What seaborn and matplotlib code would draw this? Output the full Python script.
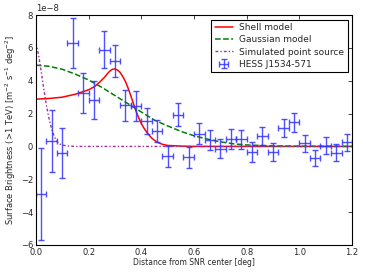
import matplotlib
matplotlib.use("Agg")
import matplotlib.pyplot as plt
import seaborn as sns
import numpy as np

# HESS J1534-571 radial profile (values in units of 1e-8 m^-2 s^-1 deg^-2)
dist = [0.02, 0.06, 0.10, 0.14, 0.18, 0.22, 0.26, 0.30, 0.34, 0.38,
        0.42, 0.46, 0.50, 0.54, 0.58, 0.62, 0.66, 0.70, 0.74, 0.78,
        0.82, 0.86, 0.90, 0.94, 0.98, 1.02, 1.06, 1.10, 1.14, 1.18]
bright = [-2.9, 0.33, -0.4, 6.3, 3.25, 2.85, 5.9, 5.2, 2.5, 2.45,
          1.55, 0.95, -0.6, 1.92, -0.66, 0.77, 0.4, -0.13, 0.47, 0.45,
          -0.34, 0.65, -0.35, 1.1, 1.47, 0.2, -0.72, 0.05, -0.38, 0.25]
bright_err = [2.8, 1.9, 1.55, 1.5, 1.2, 1.15, 1.1, 1.0, 0.95, 0.9,
              0.8, 0.65, 0.65, 0.7, 0.65, 0.65, 0.62, 0.6, 0.62, 0.58,
              0.6, 0.56, 0.55, 0.55, 0.57, 0.52, 0.5, 0.5, 0.5, 0.52]
dist_err = 0.02

shell_x = [0.0, 0.05, 0.10, 0.15, 0.20, 0.22, 0.24, 0.26, 0.27, 0.28, 0.29,
           0.30, 0.31, 0.32, 0.33, 0.34, 0.35, 0.36, 0.37, 0.38, 0.39, 0.40,
           0.41, 0.42, 0.43, 0.44, 0.46, 0.48, 0.50, 0.55, 0.60, 1.2]
shell_y = [2.88, 2.92, 3.0, 3.18, 3.45, 3.62, 3.88, 4.2, 4.4, 4.58, 4.7,
           4.72, 4.65, 4.5, 4.25, 3.95, 3.55, 3.1, 2.62, 2.15, 1.75, 1.4,
           1.12, 0.88, 0.68, 0.5, 0.26, 0.13, 0.06, 0.02, 0.0, 0.0]

gauss_x = [0.0, 0.05, 0.10, 0.15, 0.20, 0.25, 0.30, 0.35, 0.40, 0.45,
           0.50, 0.55, 0.60, 0.65, 0.70, 0.75, 0.80, 0.90, 1.0, 1.2]
gauss_y = [4.95, 4.88, 4.7, 4.4, 4.05, 3.6, 3.1, 2.6, 2.1, 1.6,
           1.25, 0.92, 0.65, 0.45, 0.28, 0.16, 0.09, 0.03, 0.01, 0.0]

psf_x = [0.0, 0.01, 0.02, 0.03, 0.04, 0.05, 0.06, 0.07, 0.08, 0.09,
         0.10, 0.12, 0.15, 1.2]
psf_y = [6.3, 5.6, 4.6, 3.5, 2.5, 1.7, 1.05, 0.6, 0.3, 0.15,
         0.08, 0.03, 0.0, 0.0]

scale = 1e-8

sns.set_style("white")
plt.rcParams["font.family"] = ["DejaVu Sans"]
plt.rcParams["font.size"] = 6

fig = plt.figure(figsize=(3.66, 2.74), dpi=100)
ax = fig.add_axes([0.098, 0.106, 0.864, 0.839])

sns.lineplot(x=shell_x, y=np.array(shell_y) * scale, ax=ax, color="red",
             lw=1.1, label="Shell model", sort=False)
sns.lineplot(x=gauss_x, y=np.array(gauss_y) * scale, ax=ax, color="green",
             lw=1.1, ls="--", label="Gaussian model", sort=False)
sns.lineplot(x=psf_x, y=np.array(psf_y) * scale, ax=ax, color="#a030a0",
             lw=1.0, dashes=False, label="Simulated point source", sort=False)
ax.lines[-1].set_dashes((2, 1.5, 1, 1.5))
ax.errorbar(dist, np.array(bright) * scale, yerr=np.array(bright_err) * scale,
            xerr=dist_err, fmt="none", ecolor="#3333ff", elinewidth=1.0,
            capsize=2, capthick=1.0, alpha=0.85, label="HESS J1534-571")

ax.set_xlim(0, 1.2)
ax.set_ylim(-6e-8, 8e-8)
ax.set_xticks(np.arange(0, 1.21, 0.2))
ax.set_yticks(np.arange(-6e-8, 8.1e-8, 2e-8))
ax.tick_params(direction="in", top=True, right=True, length=3, width=0.6,
               labelsize=6, pad=2)
for s in ax.spines.values():
    s.set_linewidth(0.8)
    s.set_color("black")

ax.set_xlabel("Distance from SNR center [deg]", fontsize=5.5, labelpad=1)
ax.set_ylabel("Surface Brightness (>1 TeV) [m$^{-2}$ s$^{-1}$ deg$^{-2}$]",
              fontsize=6, labelpad=2)
ax.yaxis.get_offset_text().set_fontsize(6)

leg = ax.legend(loc="upper right", fontsize=6.5, frameon=True, fancybox=False,
                edgecolor="black", framealpha=1, handlelength=2.0,
                handletextpad=0.7, labelspacing=0.35, borderpad=0.4,
                borderaxespad=0.5)
leg.get_frame().set_linewidth(0.8)

fig.savefig("out.png", dpi=100)
